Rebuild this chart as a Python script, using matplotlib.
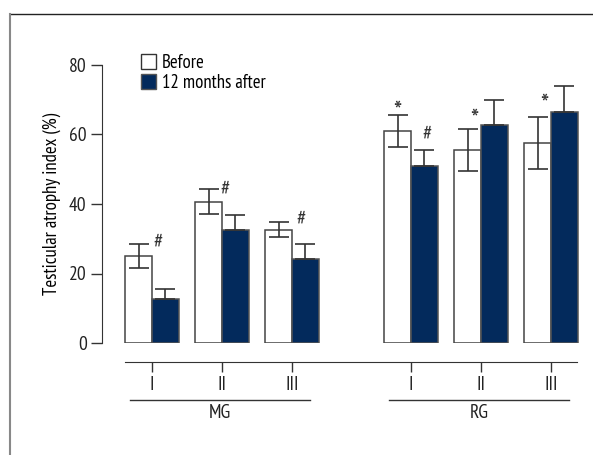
import numpy as np
import matplotlib
matplotlib.use("Agg")
import matplotlib.pyplot as plt
from matplotlib.lines import Line2D
from matplotlib.patches import Patch

# narrow font first, DejaVu if it is missing
plt.rcParams["font.family"] = ["PT Sans Narrow", "Roboto Condensed", "DejaVu Sans"]

# data
sous_groupes = ["I", "II", "III", "I", "II", "III"]
groupes = ["MG", "RG"]
avant = [25.0, 40.7, 32.6, 60.9, 55.5, 57.5]
avant_err = [3.5, 3.7, 2.2, 4.6, 6.1, 7.5]
apres = [12.8, 32.4, 24.3, 50.8, 62.6, 66.4]
apres_err = [2.6, 4.4, 4.3, 4.7, 7.2, 7.5]
etiquettes = ["Before", "12 months after"]
# marks over the bars: (symbol, x position, height)
dieses = [(0.09, 29.0), (1.04, 44.2), (2.13, 35.6), (3.93, 60.0)]
etoiles = [(3.51, 68.9), (4.60, 66.6), (5.60, 70.9)]

x = np.array([0, 1, 2, 3.7, 4.7, 5.7])
largeur = 0.38
bleu = "#032a5c"
gris = "#333333"

fig = plt.figure(figsize=(5.93, 4.55), dpi=100)
ax = fig.add_axes([102 / 593, 1 - 343 / 455, (585 - 102) / 593, (343 - 65) / 455])

ax.bar(x - largeur / 2, avant, largeur, color="white", edgecolor="#444444", linewidth=1.1)
ax.bar(x + largeur / 2, apres, largeur, color=bleu, edgecolor="#555555", linewidth=1.1)
ax.errorbar(x - largeur / 2, avant, yerr=avant_err, fmt="none", ecolor=gris,
            elinewidth=1.2, capsize=7, capthick=1.2)
ax.errorbar(x + largeur / 2, apres, yerr=[np.zeros(6), apres_err], fmt="none", ecolor=gris,
            elinewidth=1.2, capsize=7, capthick=1.2)

for xm, ym in dieses:
    ax.text(xm, ym, "#", ha="center", va="center", fontsize=15, color=gris)
for xm, ym in etoiles:
    # the asterisk glyph sits high, so anchor it lower
    ax.text(xm, ym - 2.5, "*", ha="center", va="center", fontsize=20, color=gris)

ax.set_xlim(-0.714, 6.186)
ax.set_ylim(0, 80)
ax.set_yticks([0, 20, 40, 60, 80])
ax.set_ylabel("Testicular atrophy index (%)", fontsize=13.5, labelpad=6)
ax.set_xticks(x)
ax.set_xticklabels(sous_groupes)
ax.tick_params(axis="both", labelsize=14, color=gris, width=1.0, labelcolor="#222222")
ax.tick_params(axis="y", length=8, pad=3)
ax.tick_params(axis="x", length=7.2, pad=3)

ax.spines["top"].set_visible(False)
ax.spines["right"].set_visible(False)
ax.spines["left"].set_bounds(0, 80)
ax.spines["left"].set_color(gris)
ax.spines["bottom"].set_position(("outward", 13.7))
ax.spines["bottom"].set_bounds(-0.386, 6.07)
ax.spines["bottom"].set_color(gris)

# group lines under the ticks
trans = ax.get_xaxis_transform()
for nom, (g0, g1) in zip(groupes, [(-0.31, 2.26), (3.39, 5.96)]):
    ax.plot([g0, g1], [-0.205, -0.205], transform=trans, color=gris, lw=1.0, clip_on=False)
    ax.text((g0 + g1) / 2, -0.22, nom, transform=trans, ha="center", va="top",
            fontsize=14, color="#222222")

poignees = [Patch(facecolor="white", edgecolor="#333333", linewidth=1.0),
            Patch(facecolor=bleu, edgecolor="#555555", linewidth=1.0)]
ax.legend(poignees, etiquettes, loc="upper left", bbox_to_anchor=(141 / 593, 1 - 54 / 455),
          bbox_transform=fig.transFigure, frameon=False, fontsize=13.5, borderpad=0,
          handlelength=0.8, handleheight=0.8, handletextpad=0.3, labelspacing=0.1,
          borderaxespad=0)

# frame of the picture
fig.add_artist(Line2D([10 / 593, 1], [1 - 14 / 455] * 2, color="#222222", lw=1.0))
fig.add_artist(Line2D([10 / 593] * 2, [0, 1 - 14 / 455], color="#888888", lw=1.5))

fig.savefig("out.png", dpi=100)
